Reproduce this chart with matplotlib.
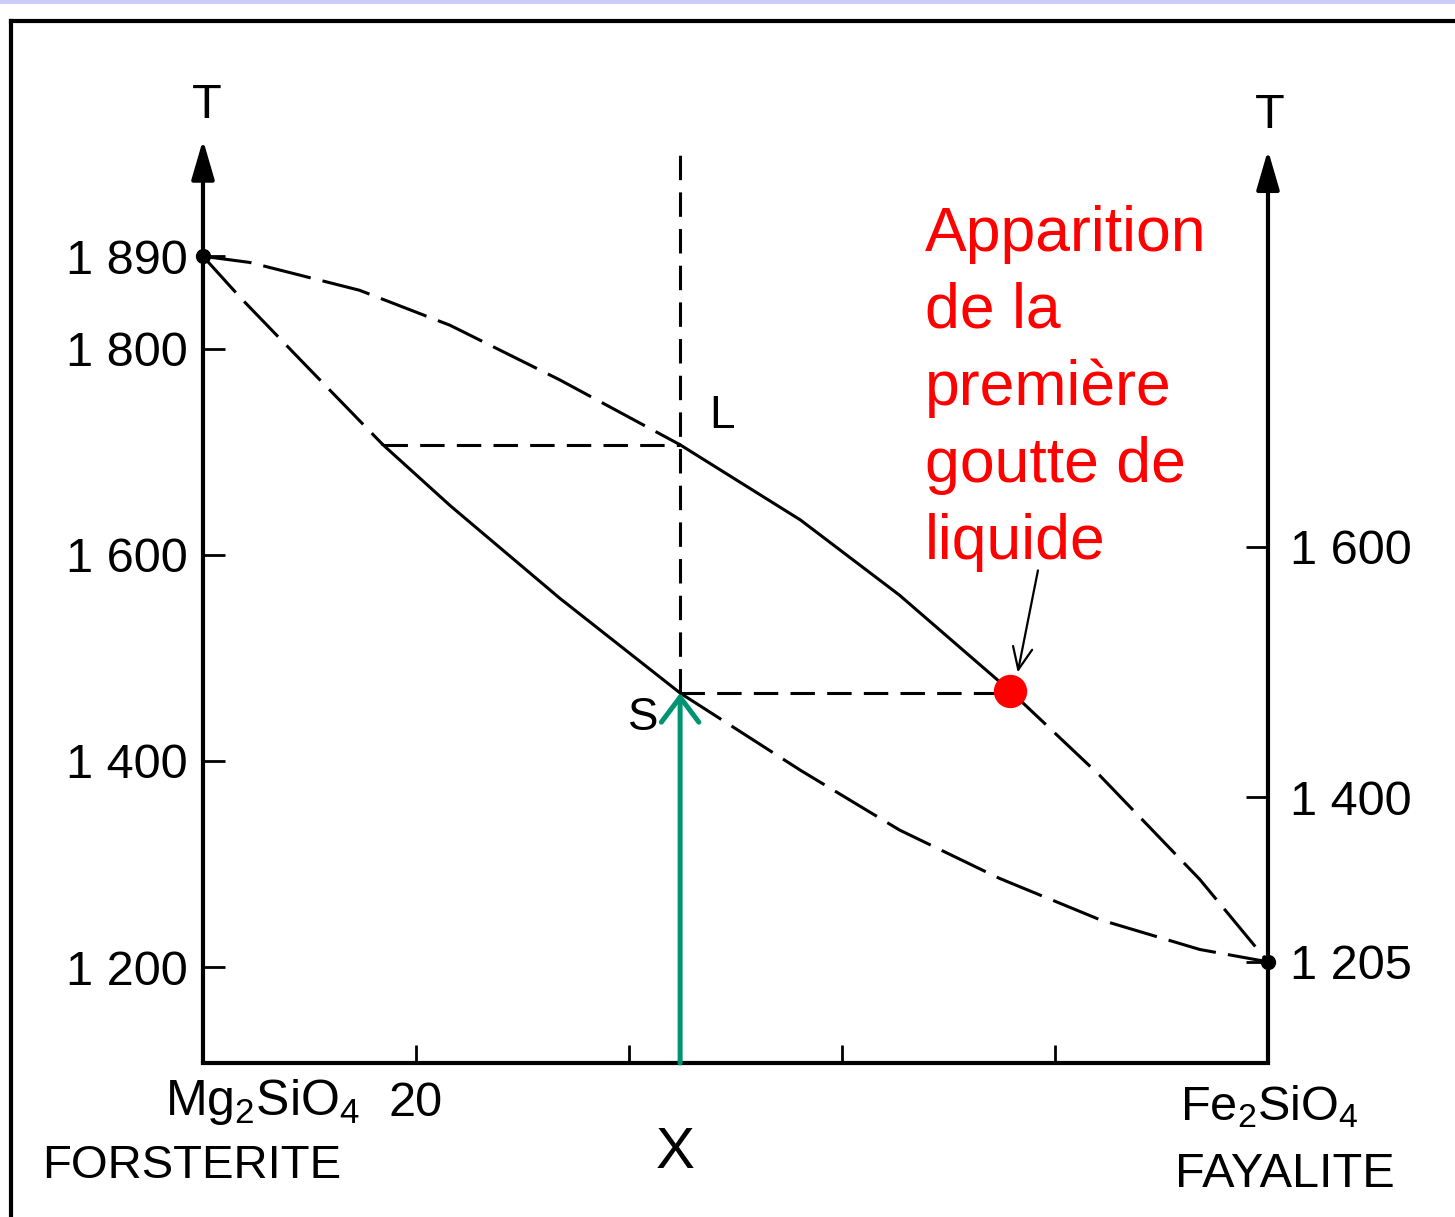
import matplotlib
matplotlib.use('Agg')
import matplotlib.pyplot as plt
from matplotlib.lines import Line2D
from matplotlib.patches import Rectangle

plt.rcParams['font.family'] = ['Liberation Sans', 'DejaVu Sans']
plt.rcParams['mathtext.default'] = 'regular'

# composition (% Fe2SiO4) and temperature (deg C)
liq_x = [0, 4.4, 14.7, 23.2, 33.5, 44.8, 56.1, 65.4, 75.8, 84.2, 93.6, 100]
liq_T = [1890, 1884, 1857, 1823, 1770, 1707, 1634, 1561, 1468, 1386, 1285, 1205]
sol_x = [0, 3.5, 9.1, 16.9, 23.2, 33.5, 44.8, 56.1, 65.4, 74.8, 84.2, 93.6, 100]
sol_T = [1890, 1850, 1790, 1707, 1648, 1558, 1466, 1391, 1333, 1286, 1246, 1217, 1205]

bulk_x = 44.8          # composition X
L_T = 1707             # liquid point L
S_T = 1466             # solidus point S
L_sol_x = 16.9         # solid in equilibrium with L
drop_x, drop_T = 75.8, 1468   # first drop of liquid

left_ticks = [1200, 1400, 1600, 1800, 1890]
left_labels = ['1 200', '1 400', '1 600', '1 800', '1 890']
# the right scale of the scanned figure is not the same as the left one
right_tick_pos = [1205, 1365, 1608]
right_labels = ['1 205', '1 400', '1 600']
x_ticks = [20, 40, 60, 80]
x_labels = ['20', '', '', '']

T_base = 1106.8        # level of the composition axis
T_top_left, T_top_right = 2003, 1993
X_MIN, X_MAX = -19.06, 117.56
T_MIN, T_MAX = 957.3, 2138.8

fig = plt.figure(figsize=(14.55, 12.17), dpi=100)
ax = fig.add_axes([0, 0, 1, 1])
ax.set_xlim(X_MIN, X_MAX)
ax.set_ylim(T_MIN, T_MAX)
ax.patch.set_alpha(0)

# frame and top band
fig.add_artist(Rectangle((0, 1 - 4 / 1217), 1, 4 / 1217, transform=fig.transFigure,
                         color='#CCCCFF', lw=0))
fig.add_artist(Line2D([11 / 1455, 1], [1 - 21 / 1217] * 2, transform=fig.transFigure,
                      color='black', lw=3))
fig.add_artist(Line2D([11 / 1455] * 2, [0, 1 - 21 / 1217], transform=fig.transFigure,
                      color='black', lw=3))

# axes
for s in ['top', 'left', 'right']:
    ax.spines[s].set_visible(False)
ax.spines['left'].set_position(('data', 0))
ax.spines['bottom'].set_position(('data', T_base))
ax.spines['bottom'].set_bounds(0, 100)
ax.spines['bottom'].set_linewidth(3)

ax.set_yticks(left_ticks, left_labels)
ax.set_xticks(x_ticks, x_labels)
ax.tick_params(axis='y', direction='in', length=16, width=2, labelsize=35, pad=11)
ax.tick_params(axis='x', direction='in', length=13, width=2, labelsize=35, pad=13)

ax2 = ax.twinx()
ax2.set_ylim(T_MIN, T_MAX)
for s in ['top', 'left', 'bottom', 'right']:
    ax2.spines[s].set_visible(False)
ax2.spines['right'].set_position(('data', 100))
ax2.set_yticks(right_tick_pos, right_labels)
ax2.tick_params(axis='y', direction='in', length=16, width=2, labelsize=35, pad=16)

arrow_kw = dict(arrowstyle='-|>,head_length=1.2,head_width=0.35', lw=3, color='black',
                mutation_scale=20, shrinkA=0, shrinkB=0)
ax.annotate('', xy=(0, T_top_left), xytext=(0, T_base), arrowprops=arrow_kw)
ax.annotate('', xy=(100, T_top_right), xytext=(100, T_base), arrowprops=arrow_kw)
ax.text(0.4, 2024, 'T', fontsize=35, ha='center', va='baseline')
ax.text(100.2, 2015, 'T', fontsize=35, ha='center', va='baseline')

# liquidus and solidus
long_dash = (0, (16, 4))
lw = 2.2
ax.plot(liq_x[:6], liq_T[:6], color='black', lw=lw, linestyle=long_dash)
ax.plot(liq_x[5:9], liq_T[5:9], color='black', lw=lw)
ax.plot(liq_x[8:], liq_T[8:], color='black', lw=lw, linestyle=long_dash)
ax.plot(sol_x[:4], sol_T[:4], color='black', lw=lw, linestyle=long_dash)
ax.plot(sol_x[3:7], sol_T[3:7], color='black', lw=lw)
ax.plot(sol_x[6:], sol_T[6:], color='black', lw=lw, linestyle=long_dash)
ax.plot([0, 100], [1890, 1205], 'o', color='black', ms=10)

# construction lines
short_dash = (0, (8, 4))
ax.plot([bulk_x, bulk_x], [S_T, T_top_right], color='black', lw=2.2, linestyle=short_dash)
ax.plot([L_sol_x, bulk_x], [L_T, L_T], color='black', lw=2.2, linestyle=short_dash)
ax.plot([bulk_x, drop_x], [S_T, S_T], color='black', lw=2.2, linestyle=short_dash)

ax.text(48.7, 1723, 'L', fontsize=33, ha='center', va='baseline')
ax.text(41.3, 1430, 'S', fontsize=33, ha='center', va='baseline')

# heating path
ax.annotate('', xy=(bulk_x, S_T), xytext=(bulk_x, T_base),
            arrowprops=dict(arrowstyle='->,head_length=0.6,head_width=0.45', lw=3.6,
                            color='#009473', mutation_scale=30, shrinkA=0, shrinkB=0))

# first drop of liquid
ax.plot(drop_x, drop_T, 'o', color='#FF0000', ms=23, zorder=5)
ax.text(67.8, 1940, 'Apparition\nde la\npremière\ngoutte de\nliquide', color='#FF0000',
        fontsize=45, ha='left', va='top', linespacing=1.39)
ax.annotate('', xy=(76.5, 1486), xytext=(78.4, 1585),
            arrowprops=dict(arrowstyle='->,head_length=0.8,head_width=0.35', lw=1.6,
                            color='black', mutation_scale=20, shrinkA=0, shrinkB=0))

# end-member labels
ax.text(5.6, 1056, 'Mg$_2$SiO$_4$', fontsize=36, ha='center', va='baseline')
ax.text(-1.1, 995, 'FORSTERITE', fontsize=34, ha='center', va='baseline')
ax.text(100.1, 1051, 'Fe$_2$SiO$_4$', fontsize=35, ha='center', va='baseline')
ax.text(101.6, 986, 'FAYALITE', fontsize=35, ha='center', va='baseline')
ax.text(44.3, 1005, 'X', fontsize=42, ha='center', va='baseline')

fig.savefig('out.png', dpi=100)
